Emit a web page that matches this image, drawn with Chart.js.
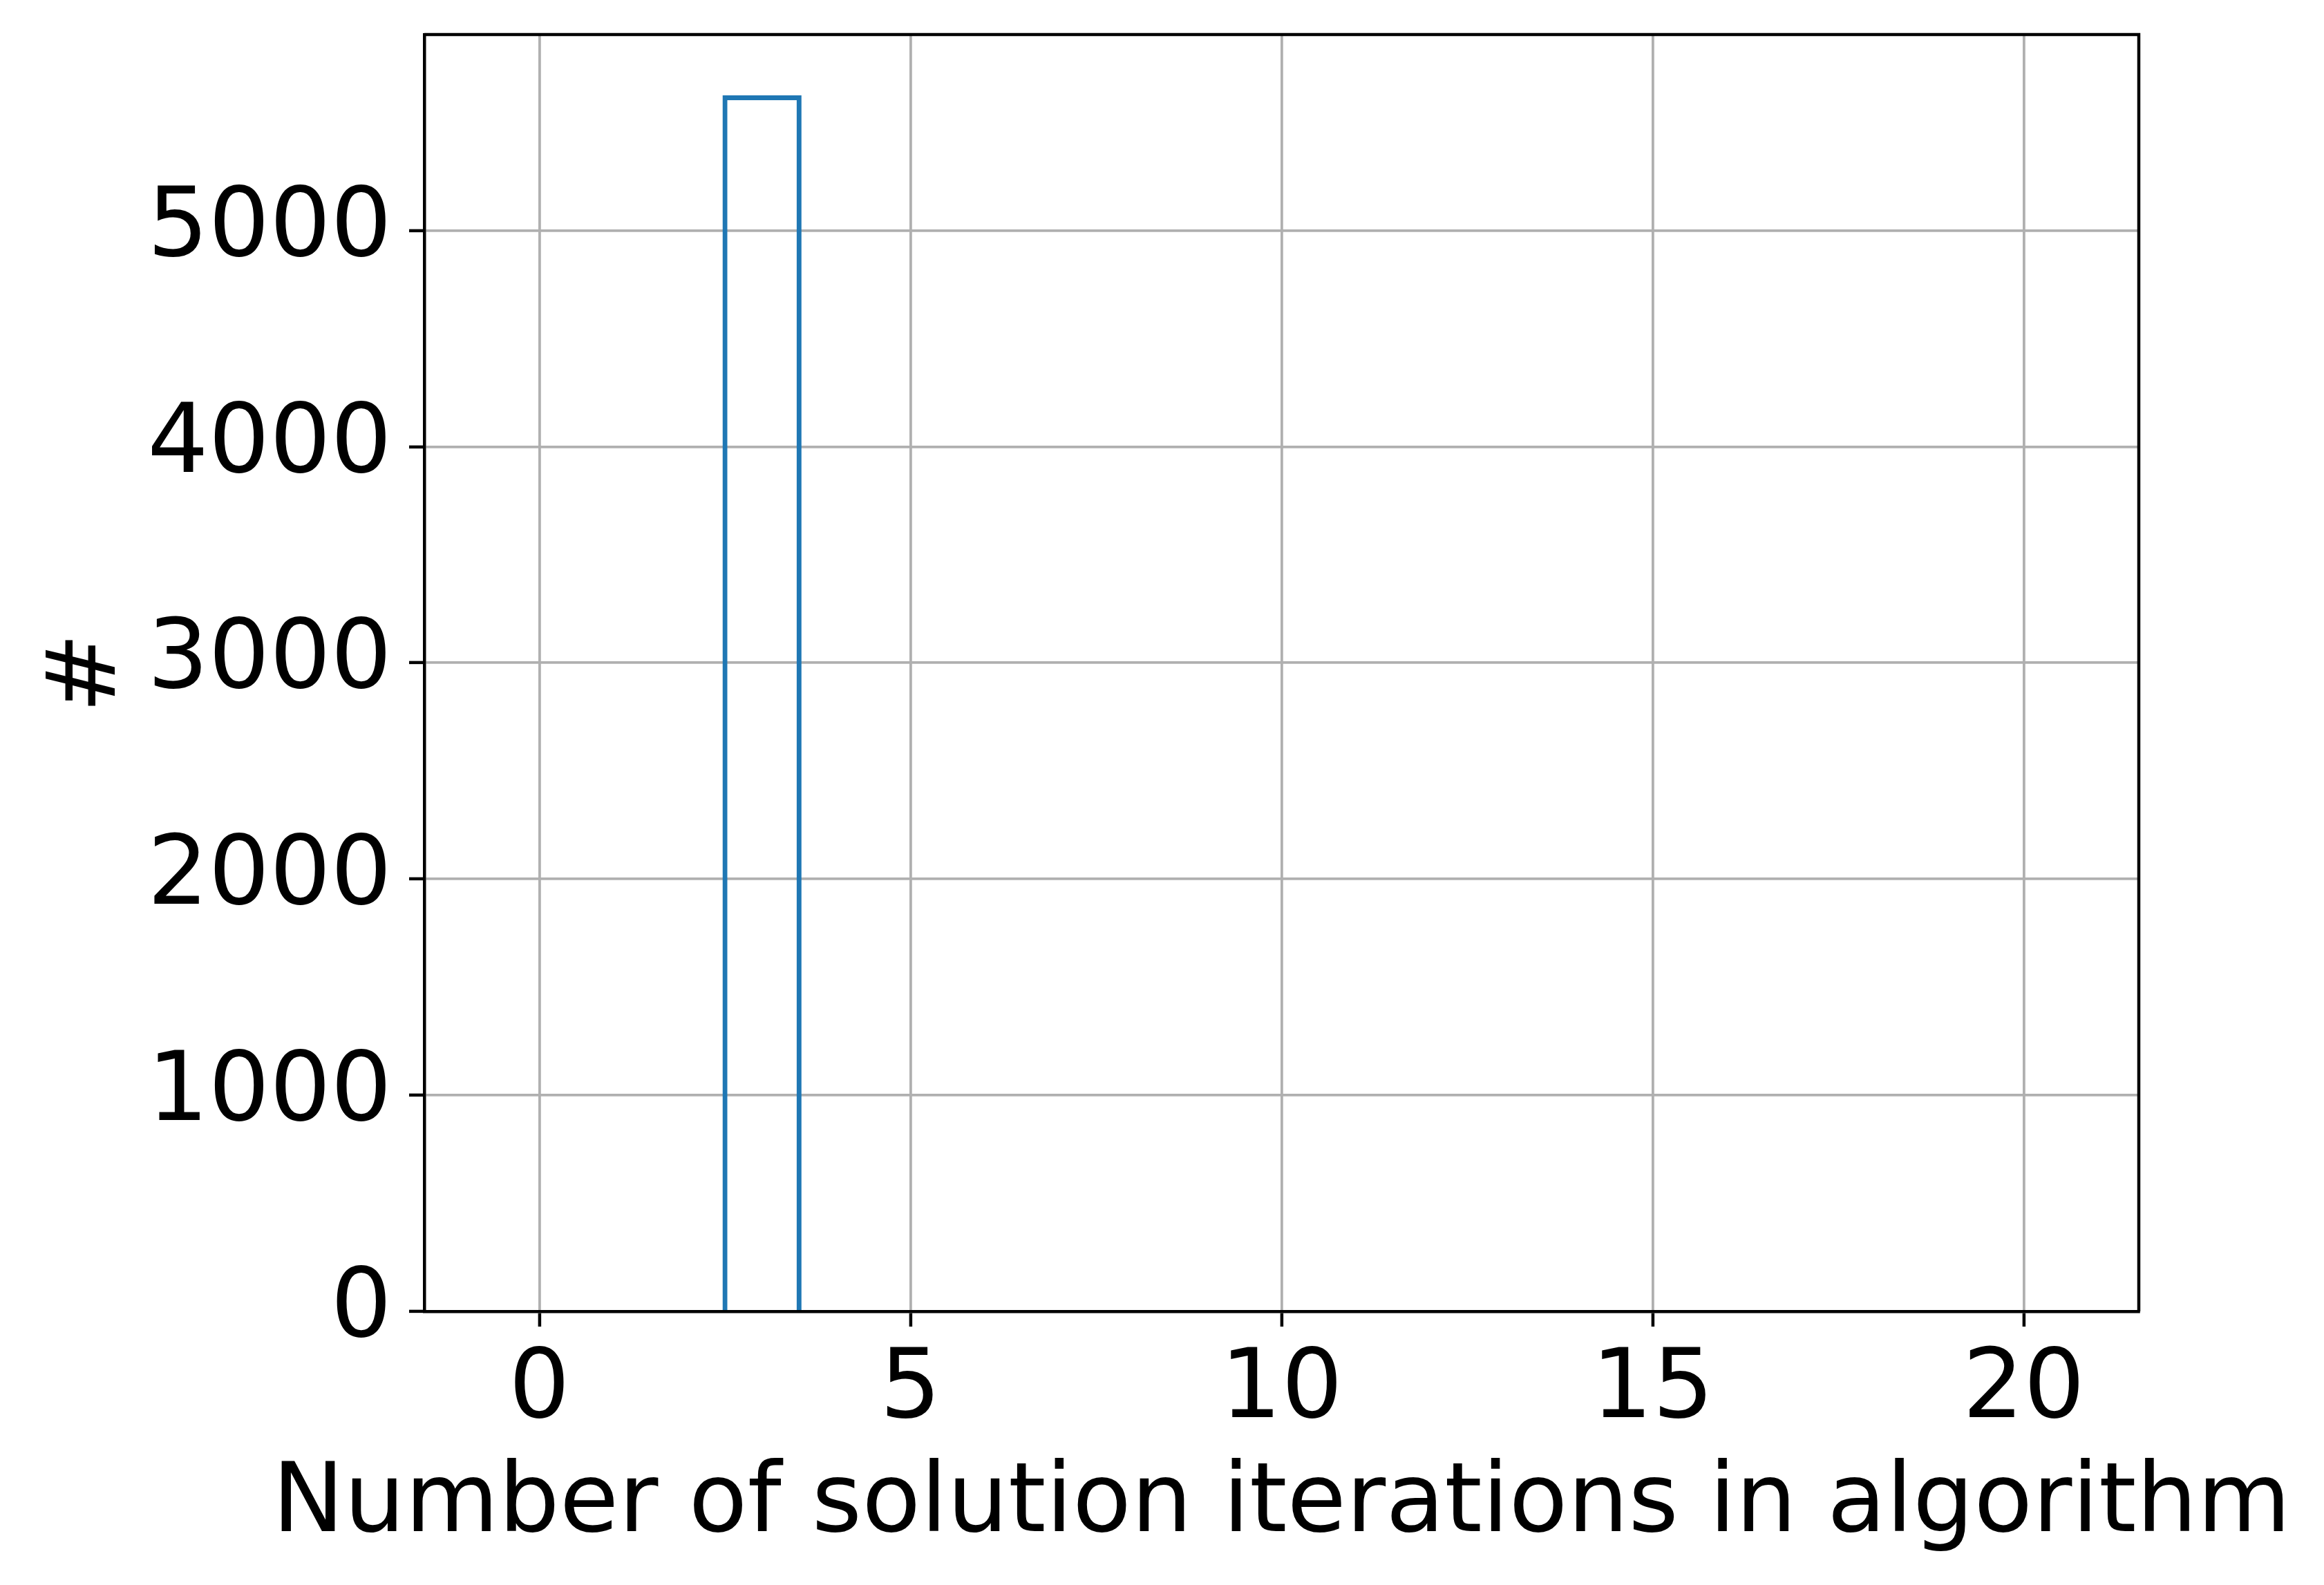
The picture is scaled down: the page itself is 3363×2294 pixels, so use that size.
<!DOCTYPE html>
<html>
<head>
<meta charset="utf-8">
<script src="https://cdn.jsdelivr.net/npm/chart.js@4"></script>
<style>
  html, body { margin: 0; padding: 0; background: #fff; }
  #wrap { width: 3363px; height: 2294px; }
</style>
</head>
<body>
<div id="wrap"><canvas id="histChart" width="3363" height="2294"></canvas></div>
<script>
// histogram bins (iterations) and counts
const iterationBins = [0, 1, 2, 3, 4, 5, 6, 7, 8, 9, 10, 11, 12, 13, 14, 15, 16, 17, 18, 19, 20];
const binCounts = [0, 0, 0, 5625, 0, 0, 0, 0, 0, 0, 0, 0, 0, 0, 0, 0, 0, 0, 0, 0, 0];
const xTickValues = [0, 5, 10, 15, 20];
const yTickValues = [0, 1000, 2000, 3000, 4000, 5000];
const xLabel = 'Number of solution iterations in algorithm';
const yLabel = '#';

const FONT = "'DejaVu Sans', sans-serif";
const FONT_SIZE = 139;

// top/right spines + x label (drawn here so canvas doesn't squeeze it to the axis width)
const framePlugin = {
  id: 'frame',
  afterDraw(chart) {
    const { ctx, chartArea: a } = chart;
    ctx.save();
    ctx.strokeStyle = '#000';
    ctx.lineWidth = 4.5;
    ctx.beginPath();
    ctx.moveTo(a.left, a.top);
    ctx.lineTo(a.right, a.top);
    ctx.lineTo(a.right, a.bottom);
    ctx.stroke();

    ctx.fillStyle = '#000';
    ctx.font = FONT_SIZE + 'px ' + FONT;
    ctx.textAlign = 'center';
    ctx.textBaseline = 'alphabetic';
    ctx.fillText(xLabel, (a.left + a.right) / 2, 2216);
    ctx.restore();
  },
};

new Chart(document.getElementById('histChart'), {
  type: 'bar',
  plugins: [framePlugin],
  data: {
    datasets: [
      {
        data: iterationBins.map((x, i) => ({ x: x, y: binCounts[i] })),
        backgroundColor: 'rgba(0,0,0,0)',
        borderColor: '#1f77b4',
        borderWidth: 7,
        barPercentage: 1.065,
        categoryPercentage: 1,
      },
    ],
  },
  options: {
    responsive: false,
    animation: false,
    devicePixelRatio: 1,
    layout: { padding: { left: 0, top: 50, right: 268, bottom: 0 } },
    plugins: {
      legend: { display: false },
      tooltip: { enabled: false },
    },
    scales: {
      x: {
        type: 'linear',
        min: -1.55,
        max: 21.55,
        offset: false,
        afterBuildTicks: (s) => { s.ticks = xTickValues.map((v) => ({ value: v })); },
        afterFit: (s) => {
          s.height = 396;
          s.paddingLeft = 0;
          s.paddingRight = 0;
        },
        ticks: {
          color: '#000',
          font: { family: FONT, size: FONT_SIZE },
          padding: 11,
          maxRotation: 0,
          autoSkip: false,
          callback: (v) => String(v),
        },
        grid: {
          offset: false,
          color: '#b0b0b0',
          lineWidth: 3.8,
          tickColor: '#000',
          tickWidth: 4.5,
          tickLength: 22,
        },
        border: { display: true, color: '#000', width: 4.5 },
      },
      y: {
        min: 0,
        max: 5906.25,
        afterBuildTicks: (s) => { s.ticks = yTickValues.map((v) => ({ value: v })); },
        afterFit: (s) => {
          s.width = 614;
          s.paddingTop = 0;
          s.paddingBottom = 0;
        },
        ticks: {
          color: '#000',
          font: { family: FONT, size: FONT_SIZE },
          padding: 25,
          callback: (v) => String(v),
        },
        grid: {
          color: '#b0b0b0',
          lineWidth: 3.8,
          tickColor: '#000',
          tickWidth: 4.5,
          tickLength: 22,
        },
        border: { display: true, color: '#000', width: 4.5 },
        title: {
          display: true,
          text: yLabel,
          color: '#000',
          font: { family: FONT, size: FONT_SIZE },
          padding: { top: 46, bottom: 0 },
        },
      },
    },
  },
});
</script>
</body>
</html>
